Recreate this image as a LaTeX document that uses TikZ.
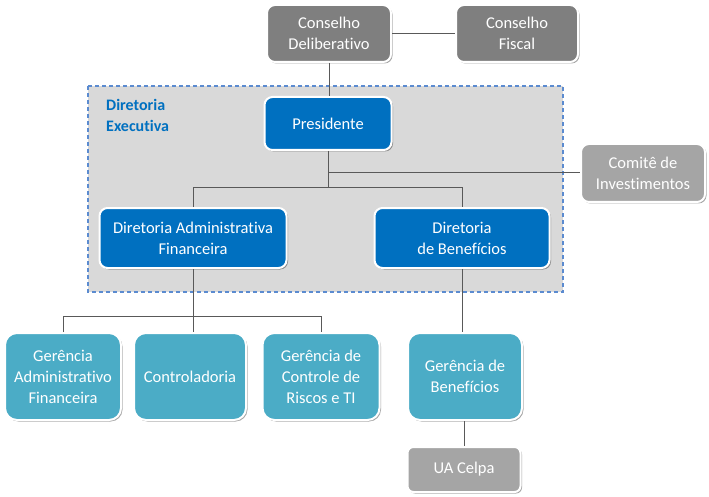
\documentclass[tikz,border=0pt]{standalone}
\usepackage{fontspec}
\setmainfont[Ligatures=NoCommon]{Carlito}
\usetikzlibrary{shadows}
\definecolor{dgray}{HTML}{7F7F7F}
\definecolor{lgray}{HTML}{A5A5A5}
\definecolor{dblue}{HTML}{0070C0}
\definecolor{teal}{HTML}{4BACC6}
\definecolor{bgray}{HTML}{D9D9D9}
\definecolor{dashblue}{HTML}{5B8BD0}
\definecolor{linec}{HTML}{595959}
\tikzset{
  box/.style={draw=white, line width=2pt, rounded corners=8pt, text=white,
    align=center, inner sep=0pt, font=\fontsize{16.5}{21}\selectfont,
    drop shadow={shadow xshift=1.5pt, shadow yshift=-1.5pt, opacity=0.35, fill=black}},
  dbox/.style={box, fill=dgray},
  lbox/.style={box, fill=lgray},
  bbox/.style={box, fill=dblue},
  tbox/.style={box, fill=teal, rounded corners=12pt},
  conn/.style={draw=linec, line width=1pt},
}
\begin{document}
\begin{tikzpicture}[x=1pt,y=-1pt]
\useasboundingbox (0,0) rectangle (709,497);
% executive area
\draw[fill=bgray, draw=dashblue, line width=1.2pt, dash pattern=on 4pt off 3pt] (88,86) rectangle (563,292);
\node[anchor=north west, align=left, text=dblue, font=\fontsize{16}{21}\selectfont\bfseries, inner sep=0pt] (de) at (106,99) {Diretoria\\Executiva};
\coordinate (j1) at (328,188);
\coordinate (j2) at (193,316);
% nodes
\node[dbox, minimum width=124pt, minimum height=57pt] (cd) at (329,33.5) {Conselho\\Deliberativo};
\node[dbox, minimum width=122pt, minimum height=57pt] (cf) at (517,33.5) {Conselho\\Fiscal};
\node[bbox, minimum width=127pt, minimum height=53pt] (pres) at (328,123.5) {Presidente};
\node[lbox, minimum width=124pt, minimum height=58pt] (com) at (643,173) {Comitê de\\Investimentos};
\node[bbox, minimum width=187pt, minimum height=60pt] (daf) at (193,238) {Diretoria Administrativa\\Financeira};
\node[bbox, minimum width=175pt, minimum height=60pt] (db) at (462,238) {Diretoria\\de Benefícios};
\node[tbox, minimum width=116pt, minimum height=87pt] (gaf) at (63,376.5) {Gerência\\Administrativo\\Financeira};
\node[tbox, minimum width=112pt, minimum height=87pt] (ctrl) at (190,376.5) {Controladoria};
\node[tbox, minimum width=117pt, minimum height=87pt] (grt) at (321,376.5) {Gerência de\\Controle de\\Riscos e TI};
\node[tbox, minimum width=114pt, minimum height=87pt] (gb) at (465,376.5) {Gerência de\\Benefícios};
\node[lbox, minimum width=113pt, minimum height=45pt, rounded corners=6pt] (ua) at (464,469.5) {UA Celpa};
% connectors
\draw[conn] (cd.east) -- (cf.west);
\draw[conn] (cd.south) -- (cd.south |- pres.north);
\draw[conn] (pres.south) -- (j1);
\draw[conn] (pres.south |- com.west) -- (com.west);
\draw[conn] (daf.north) -- (daf.north |- j1) -- (db.north |- j1) -- (db.north);
\draw[conn] (daf.south) -- (j2);
\draw[conn] (gaf.north) -- (gaf.north |- j2) -- (grt.north |- j2) -- (grt.north);
\draw[conn] (j2) -- (j2 |- ctrl.north);
\draw[conn] (db.south) -- (db.south |- gb.north);
\draw[conn] (gb.south -| ua.north) -- (ua.north);
\end{tikzpicture}
\end{document}
